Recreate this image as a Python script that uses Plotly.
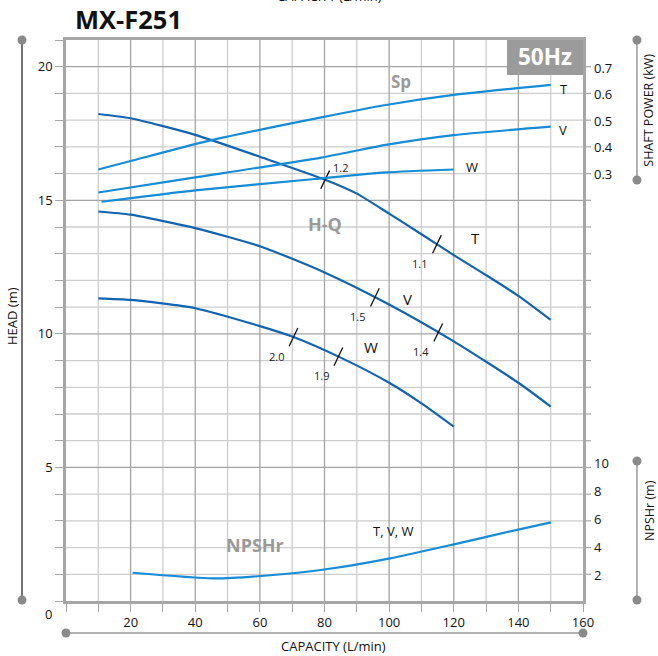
import plotly.graph_objects as go
import numpy as np

# ---------------- data ----------------
# H-Q curves: capacity (L/min) vs head (m)
hq_T_q = [10, 20, 40, 60, 80, 90, 100, 110, 120, 130, 140, 150]
hq_T_h = [18.23, 18.07, 17.45, 16.63, 15.78, 15.25, 14.5, 13.73, 12.95, 12.2, 11.42, 10.52]
hq_V_q = [10, 20, 40, 60, 80, 100, 120, 140, 150]
hq_V_h = [14.58, 14.46, 13.96, 13.28, 12.3, 11.1, 9.72, 8.17, 7.28]
hq_W_q = [10, 20, 40, 60, 70, 85, 100, 110, 120]
hq_W_h = [11.33, 11.27, 10.96, 10.29, 9.9, 9.11, 8.17, 7.4, 6.53]

# Shaft power curves: capacity vs kW
sp_T_q = [10, 20, 45, 79, 99, 120, 150]
sp_T_p = [0.317, 0.349, 0.428, 0.514, 0.561, 0.599, 0.637]
sp_V_q = [10, 40, 79, 99, 120, 150]
sp_V_p = [0.230, 0.287, 0.362, 0.410, 0.447, 0.479]
sp_W_q = [11, 40, 77, 99, 120]
sp_W_p = [0.195, 0.238, 0.281, 0.306, 0.317]

# NPSHr curve (T, V, W)
npsh_q = [20.6, 45.4, 60.4, 80.5, 100.3, 120.4, 140.3, 150.1]
npsh_n = [2.16, 1.76, 1.93, 2.41, 3.19, 4.21, 5.26, 5.76]

# efficiency marks on H-Q curves
eff_T_q = [80.2, 114.8]
eff_T_lbl = ["1.2", "1.1"]
eff_V_q = [95.6, 115.2]
eff_V_lbl = ["1.5", "1.4"]
eff_W_q = [70.4, 84.3]
eff_W_lbl = ["2.0", "1.9"]

x_ticks = [20, 40, 60, 80, 100, 120, 140, 160]
x_grid = list(range(10, 160, 10))
head_ticks = [5, 10, 15, 20]
head_grid = list(range(1, 21))
power_ticks = [0.3, 0.4, 0.5, 0.6, 0.7]
npsh_ticks = [2, 4, 6, 8, 10]

X_MAX = 160
H_MAX = 21

# ---------------- style ----------------
FONT = "Open Sans"
DARK = "#1264b0"
LIGHT = "#168bd6"
GRID_MAJ = "#a4a4a4"
GRID_MIN = "#cdcdcd"
FRAME = "#a6a6a6"

fig = go.Figure()

# grid lines, built from the tick arrays, drawn under the curves
def grid_trace(vals, major, vertical, color):
    xs, ys = [], []
    for v in vals:
        if (v % major == 0) != (color == GRID_MAJ):
            continue
        if vertical:
            xs += [v, v, None]
            ys += [0, H_MAX, None]
        else:
            xs += [0, X_MAX, None]
            ys += [v, v, None]
    fig.add_trace(go.Scatter(x=xs, y=ys, mode="lines", line=dict(color=color, width=1.3),
                             hoverinfo="skip", showlegend=False, connectgaps=False))

grid_trace(x_grid, 20, True, GRID_MIN)
grid_trace(head_grid, 5, False, GRID_MIN)
grid_trace(x_grid, 20, True, GRID_MAJ)
grid_trace(head_grid, 5, False, GRID_MAJ)

def curve(q, v, color, yaxis="y"):
    fig.add_trace(go.Scatter(x=q, y=v, mode="lines", yaxis=yaxis,
                             line=dict(color=color, width=2.2, shape="spline", smoothing=0.6),
                             hoverinfo="skip", showlegend=False))

curve(sp_T_q, sp_T_p, LIGHT, "y2")
curve(sp_V_q, sp_V_p, LIGHT, "y2")
curve(sp_W_q, sp_W_p, LIGHT, "y2")
curve(npsh_q, npsh_n, LIGHT, "y3")
curve(hq_T_q, hq_T_h, DARK)
curve(hq_V_q, hq_V_h, DARK)
curve(hq_W_q, hq_W_h, DARK)

annotations = []
DQ, DH = 1.35, 0.34
for qs, lbls, cq, ch in [(eff_T_q, eff_T_lbl, hq_T_q, hq_T_h),
                         (eff_V_q, eff_V_lbl, hq_V_q, hq_V_h),
                         (eff_W_q, eff_W_lbl, hq_W_q, hq_W_h)]:
    for q, lbl in zip(qs, lbls):
        h = float(np.interp(q, cq, ch))
        fig.add_trace(go.Scatter(x=[q - DQ, q + DQ], y=[h - DH, h + DH], mode="lines",
                                 line=dict(color="#111111", width=1.3),
                                 hoverinfo="skip", showlegend=False))
        if lbl == "1.2":
            xs, ys = 15, 12
        else:
            xs, ys = -17, -19
        annotations.append(dict(x=q, y=h, xref="x", yref="y", text=lbl, showarrow=False,
                                xshift=xs, yshift=ys,
                                font=dict(family=FONT, size=11, color="#222")))

def txt(x, y, s, size=13, color="#111", bold=False, xref="x", yref="y", angle=0, xanchor="center"):
    annotations.append(dict(x=x, y=y, xref=xref, yref=yref, text=s, showarrow=False,
                            textangle=angle, xanchor=xanchor, yanchor="middle",
                            font=dict(family=FONT, size=size, color=color,
                                      weight="bold" if bold else "normal")))

# curve labels
txt(103.7, 19.43, "Sp", 17, "#9a9a9a", True)
txt(80.2, 14.11, "H-Q", 18, "#9a9a9a", True)
txt(58.5, 2.10, "NPSHr", 18, "#9a9a9a", True)
txt(154.1, 19.17, "T", 13)
txt(153.8, 17.63, "V", 13)
txt(125.7, 16.25, "W", 13)
txt(126.6, 13.59, "T", 15)
txt(105.8, 11.31, "V", 15)
txt(94.4, 9.51, "W", 15)
txt(101.2, 2.62, "T, V, W", 13)

# titles / misc text (paper coords)
txt(0.0135, 1.0375, "MX-F251", 25.5, "#111", True, "paper", "paper", xanchor="left")
txt(0.9265, 0.9697, "50Hz", 22.5, "white", True, "paper", "paper")
txt(-0.0348, -0.0232, "0", 13, "#111", False, "paper", "paper")
txt(-0.1044, 0.508, "HEAD (m)", 13, "#111", False, "paper", "paper", angle=-90)
txt(1.1276, 0.8757, "SHAFT POWER (kW)", 12.5, "#111", False, "paper", "paper", angle=-90)
txt(1.1276, 0.1622, "NPSHr (m)", 12.5, "#111", False, "paper", "paper", angle=-90)
txt(0.518, -0.0802, "CAPACITY (L/min)", 13, "#111", False, "paper", "paper")
txt(0.510, 1.0784, "CAPACITY (L/min)", 13, "#111", False, "paper", "paper")

shapes = []
# tick marks outside the right edge of the frame
for h in head_grid:
    shapes.append(dict(type="line", xref="paper", yref="y", x0=1, x1=1 + 8 / 517, y0=h, y1=h,
                       layer="above", line=dict(color=FRAME, width=1.2)))

# 50Hz box
shapes.append(dict(type="rect", xref="paper", yref="paper", x0=0.853, x1=1.0, y0=0.9376, y1=1.0,
                   fillcolor="#9b9b9b", line=dict(width=0), layer="above"))

def bracket(x0, y0, x1, y1, lc):
    shapes.append(dict(type="line", xref="paper", yref="paper", x0=x0, y0=y0, x1=x1, y1=y1,
                       line=dict(color=lc, width=1.5)))
    for (xa, ya) in [(x0, y0), (x1, y1)]:
        shapes.append(dict(type="circle", xref="paper", yref="paper",
                           xsizemode="pixel", ysizemode="pixel", xanchor=xa, yanchor=ya,
                           x0=-4.5, x1=4.5, y0=-4.5, y1=4.5,
                           fillcolor="#8a8a8a", line=dict(width=0)))

bracket(-0.0851, 1.0, -0.0851, 0.0018, "#444444")
bracket(0.0, -0.057, 1.0, -0.057, "#999999")
bracket(1.1044, 1.0, 1.1044, 0.7504, "#999999")
bracket(1.1044, 0.2496, 1.1044, 0.0018, "#999999")

tickfont = dict(family=FONT, size=13, color="#111")

fig.update_layout(
    width=658, height=656,
    margin=dict(l=66, r=75, t=40, b=55),
    paper_bgcolor="white", plot_bgcolor="rgba(0,0,0,0)",
    showlegend=False,
    annotations=annotations,
    shapes=shapes,
    xaxis=dict(range=[0, X_MAX], tickvals=x_ticks, ticks="outside", ticklen=8,
               tickcolor=FRAME, tickwidth=1.2, tickfont=tickfont, showgrid=False,
               minor=dict(dtick=10, tick0=0, showgrid=False,
                          ticks="outside", ticklen=8, tickcolor=FRAME, tickwidth=1.2),
               showline=True, linecolor=FRAME, linewidth=2.5, mirror=True, zeroline=False),
    yaxis=dict(range=[0, H_MAX], tickvals=head_ticks, ticks="outside", ticklen=8,
               tickcolor=FRAME, tickwidth=1.2, tickfont=tickfont, showgrid=False,
               minor=dict(dtick=1, tick0=0, showgrid=False,
                          ticks="outside", ticklen=8, tickcolor=FRAME, tickwidth=1.2),
               showline=True, linecolor=FRAME, linewidth=2.5, mirror=True, zeroline=False),
    yaxis2=dict(overlaying="y", side="right", anchor="x", range=[-1.316, 0.807],
                tickvals=power_ticks, tickformat=".1f", ticks="", showgrid=False,
                zeroline=False, showline=False, tickfont=tickfont, ticklabelstandoff=10),
    yaxis3=dict(overlaying="y", side="right", anchor="x", range=[0.143, 40.21],
                tickvals=npsh_ticks, ticks="", showgrid=False,
                zeroline=False, showline=False, tickfont=tickfont, ticklabelstandoff=10),
)

fig.write_html("out.html")
